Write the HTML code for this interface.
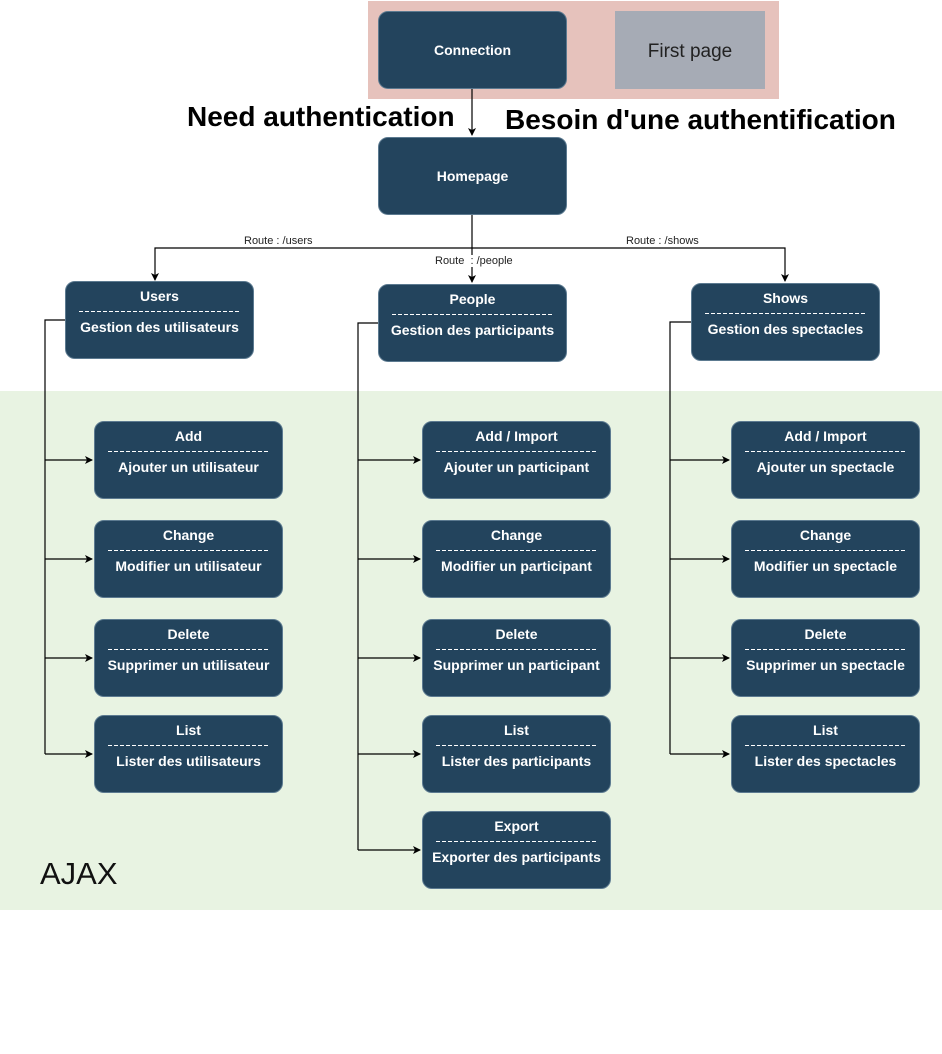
<!DOCTYPE html>
<html><head><meta charset="utf-8"><style>
body{margin:0;width:942px;height:1054px;background:#fff;position:relative;font-family:"Liberation Sans",sans-serif;overflow:hidden}
.a{position:absolute}
.b{position:absolute;background:#23445d;border-radius:10px;color:#fff;font-weight:bold;font-size:14px;text-align:center;box-sizing:border-box;width:189px;height:78px;padding-top:6px;line-height:17px;border:1px solid #5c7a90}
.b .d{height:1px;margin:6px 13px 7px;background:repeating-linear-gradient(90deg,#fff 0 4px,transparent 4px 6px)}
.lbl{position:absolute;font-size:11px;background:#fff;color:#222;line-height:12px}
</style></head><body>
<div class="a" style="left:368px;top:1px;width:411px;height:98px;background:#e6c2bc"></div>
<div class="a" style="left:615px;top:11px;width:150px;height:78px;background:#a6abb5;color:#222;font-size:19px;line-height:82px;text-align:center">First page</div>
<div class="a" style="left:0;top:391px;width:942px;height:519px;background:#e8f3e2"></div>
<div class="a" style="left:40px;top:856px;font-size:31px;color:#111">AJAX</div>
<div class="a" style="left:187px;top:101px;font-size:28px;font-weight:bold;color:#000">Need authentication</div>
<div class="a" style="left:505px;top:104px;font-size:28px;font-weight:bold;color:#000">Besoin d'une authentification</div>
<svg class="a" style="left:0;top:0" width="942" height="1054">
<defs><marker id="m" markerWidth="8" markerHeight="8" refX="7" refY="4" orient="auto" markerUnits="userSpaceOnUse"><path d="M0,0 L8,4 L0,8 L2,4z" fill="#000"/></marker></defs>
<g stroke="#000" stroke-width="1.2" fill="none">
<path d="M472 89 V135" marker-end="url(#m)"/>
<path d="M472 215 V248 H155 V280" marker-end="url(#m)"/>
<path d="M472 248 V282" marker-end="url(#m)"/>
<path d="M472 248 H785 V281" marker-end="url(#m)"/>
<path d="M65 320 H45 V754"/><path d="M378 323 H358 V850"/><path d="M691 322 H670 V754"/>
<path d="M45 460 H92" marker-end="url(#m)"/><path d="M45 559 H92" marker-end="url(#m)"/><path d="M45 658 H92" marker-end="url(#m)"/><path d="M45 754 H92" marker-end="url(#m)"/>
<path d="M358 460 H420" marker-end="url(#m)"/><path d="M358 559 H420" marker-end="url(#m)"/><path d="M358 658 H420" marker-end="url(#m)"/><path d="M358 754 H420" marker-end="url(#m)"/><path d="M358 850 H420" marker-end="url(#m)"/>
<path d="M670 460 H729" marker-end="url(#m)"/><path d="M670 559 H729" marker-end="url(#m)"/><path d="M670 658 H729" marker-end="url(#m)"/><path d="M670 754 H729" marker-end="url(#m)"/>
</g></svg>
<div class="lbl" style="left:244px;top:235px">Route : /users</div>
<div class="lbl" style="left:435px;top:255px">Route &nbsp;: /people</div>
<div class="lbl" style="left:626px;top:235px">Route : /shows</div>
<div class="b" style="left:378px;top:11px;padding-top:30px">Connection</div>
<div class="b" style="left:378px;top:137px;padding-top:30px">Homepage</div>
<div class="b" style="left:65px;top:281px">Users<div class="d"></div>Gestion des utilisateurs</div>
<div class="b" style="left:378px;top:284px">People<div class="d"></div>Gestion des participants</div>
<div class="b" style="left:691px;top:283px">Shows<div class="d"></div>Gestion des spectacles</div>

<div class="b" style="left:94px;top:421px">Add<div class="d"></div>Ajouter un utilisateur</div>
<div class="b" style="left:94px;top:520px">Change<div class="d"></div>Modifier un utilisateur</div>
<div class="b" style="left:94px;top:619px">Delete<div class="d"></div>Supprimer un utilisateur</div>
<div class="b" style="left:94px;top:715px">List<div class="d"></div>Lister des utilisateurs</div>

<div class="b" style="left:422px;top:421px">Add / Import<div class="d"></div>Ajouter un participant</div>
<div class="b" style="left:422px;top:520px">Change<div class="d"></div>Modifier un participant</div>
<div class="b" style="left:422px;top:619px">Delete<div class="d"></div>Supprimer un participant</div>
<div class="b" style="left:422px;top:715px">List<div class="d"></div>Lister des participants</div>
<div class="b" style="left:422px;top:811px">Export<div class="d"></div>Exporter des participants</div>

<div class="b" style="left:731px;top:421px">Add / Import<div class="d"></div>Ajouter un spectacle</div>
<div class="b" style="left:731px;top:520px">Change<div class="d"></div>Modifier un spectacle</div>
<div class="b" style="left:731px;top:619px">Delete<div class="d"></div>Supprimer un spectacle</div>
<div class="b" style="left:731px;top:715px">List<div class="d"></div>Lister des spectacles</div>
</body></html>
